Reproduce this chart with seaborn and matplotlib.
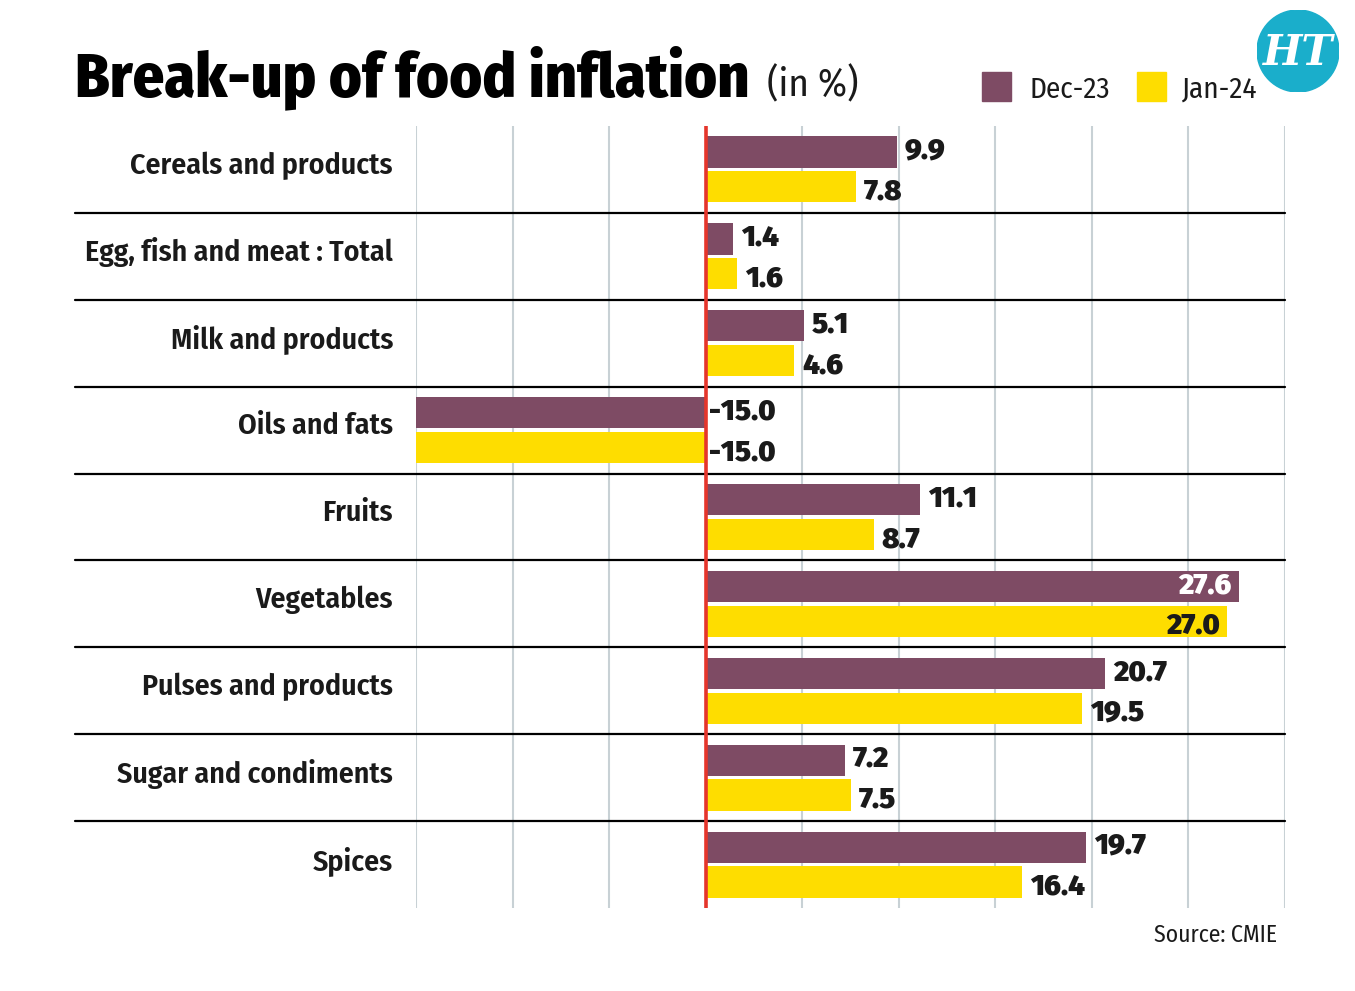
import matplotlib
matplotlib.use("Agg")
import matplotlib.pyplot as plt
import matplotlib.patches as mpatches
import seaborn as sns
import pandas as pd

categories = ["Cereals and products", "Egg, fish and meat : Total", "Milk and products",
              "Oils and fats", "Fruits", "Vegetables", "Pulses and products",
              "Sugar and condiments", "Spices"]
dec23 = [9.9, 1.4, 5.1, -15.0, 11.1, 27.6, 20.7, 7.2, 19.7]
jan24 = [7.8, 1.6, 4.6, -15.0, 8.7, 27.0, 19.5, 7.5, 16.4]
periods = ["Dec-23", "Jan-24"]

PURPLE = "#7e4b64"
YELLOW = "#fedd00"
DARK = "#1a1a1a"

sns.set_style("white")
plt.rcParams['font.family'] = ['Fira Sans Condensed', 'Roboto Condensed', 'DejaVu Sans']
NUM_FONT = ['Fira Sans', 'Roboto', 'DejaVu Sans']

df = pd.DataFrame({
    "category": categories * 2,
    "value": dec23 + jan24,
    "period": [periods[0]] * len(categories) + [periods[1]] * len(categories),
})

fig = plt.figure(figsize=(13.55, 9.91), dpi=100)
fig.patch.set_facecolor("white")
ax = fig.add_axes([416 / 1355, 1 - 908 / 991, (1285 - 416) / 1355, (908 - 126) / 991])

sns.barplot(data=df, x="value", y="category", hue="period", orient="h",
            palette=[PURPLE, YELLOW], saturation=1, width=0.8, gap=0.1,
            linewidth=0, legend=False, ax=ax)

ax.set_xlim(-15, 30)
ax.set_ylim(len(categories) - 0.5, -0.5)
ax.set_xticks(range(-15, 31, 5))
ax.set_xticklabels([])
ax.set_yticklabels([])
ax.grid(axis="x", color="#c8d1d5", lw=1.5)
ax.grid(axis="y", visible=False)
ax.set_axisbelow(True)
for s in ax.spines.values():
    s.set_visible(False)
ax.set_xlabel("")
ax.set_ylabel("")
ax.tick_params(axis="both", length=0)

# category labels, right-aligned left of the plot area
for i, cat in enumerate(categories):
    ax.annotate(cat, xy=(0, i), xycoords=("axes fraction", "data"),
                xytext=(-23, 4), textcoords="offset pixels", ha="right", va="center",
                fontsize=21.5, fontweight=600, color=DARK)

# zero line
ax.axvline(0, color="#e5352b", lw=2.6, zorder=4)

# row separators
for i in range(len(categories) - 1):
    ax.axhline(i + 0.5, xmin=-0.392, xmax=1, color="black", lw=1.6, clip_on=False, zorder=3)

# value labels
for k, (cont, vals) in enumerate(zip(ax.containers, [dec23, jan24])):
    dy = 1 if k == 0 else -5
    for patch, v in zip(cont, vals):
        yc = patch.get_y() + patch.get_height() / 2
        if v < 0:
            xy, dx, ha, col = (0, yc), 3, "left", DARK
        elif v > 26:
            xy, dx, ha, col = (v, yc), -7, "right", ("white" if k == 0 else DARK)
        else:
            xy, dx, ha, col = (v, yc), 8, "left", DARK
        ax.annotate(f"{v:.1f}", xy=xy, xytext=(dx, dy), textcoords="offset pixels",
                    ha=ha, va="center", fontsize=21, fontweight=900, family=NUM_FONT,
                    color=col, zorder=5)

# title
fig.text(75 / 1355, 1 - 96 / 991, "Break-up of food inflation", fontsize=44.6,
         fontweight=800, color="black", ha="left", va="baseline")
fig.text(767 / 1355, 1 - 96 / 991, "(in %)", fontsize=28, color=DARK,
         ha="left", va="baseline")

# legend
for x0, col, lab, tx in [(982, PURPLE, "Dec-23", 1030), (1137, YELLOW, "Jan-24", 1182)]:
    fig.patches.append(mpatches.Rectangle((x0 / 1355, 1 - 101 / 991), 29 / 1355, 29 / 991,
                                          transform=fig.transFigure, color=col))
    fig.text(tx / 1355, 1 - 98 / 991, lab, fontsize=21, color=DARK, ha="left", va="baseline")

# source
fig.text(1277 / 1355, 1 - 942 / 991, "Source: CMIE", fontsize=17, color=DARK,
         ha="right", va="baseline")

# HT logo
lax = fig.add_axes([1257 / 1355, 1 - 92 / 991, 82 / 1355, 82 / 991])
lax.set_xlim(0, 1)
lax.set_ylim(0, 1)
lax.axis("off")
lax.add_patch(mpatches.Circle((0.5, 0.5), 0.5, color="#1aaecb"))
lax.text(0.5, 0.48, "HT", ha="center", va="center", fontsize=30, color="white",
         fontweight="bold", fontstyle="italic", family="DejaVu Serif")

fig.savefig("out.png", dpi=100, facecolor="white")
